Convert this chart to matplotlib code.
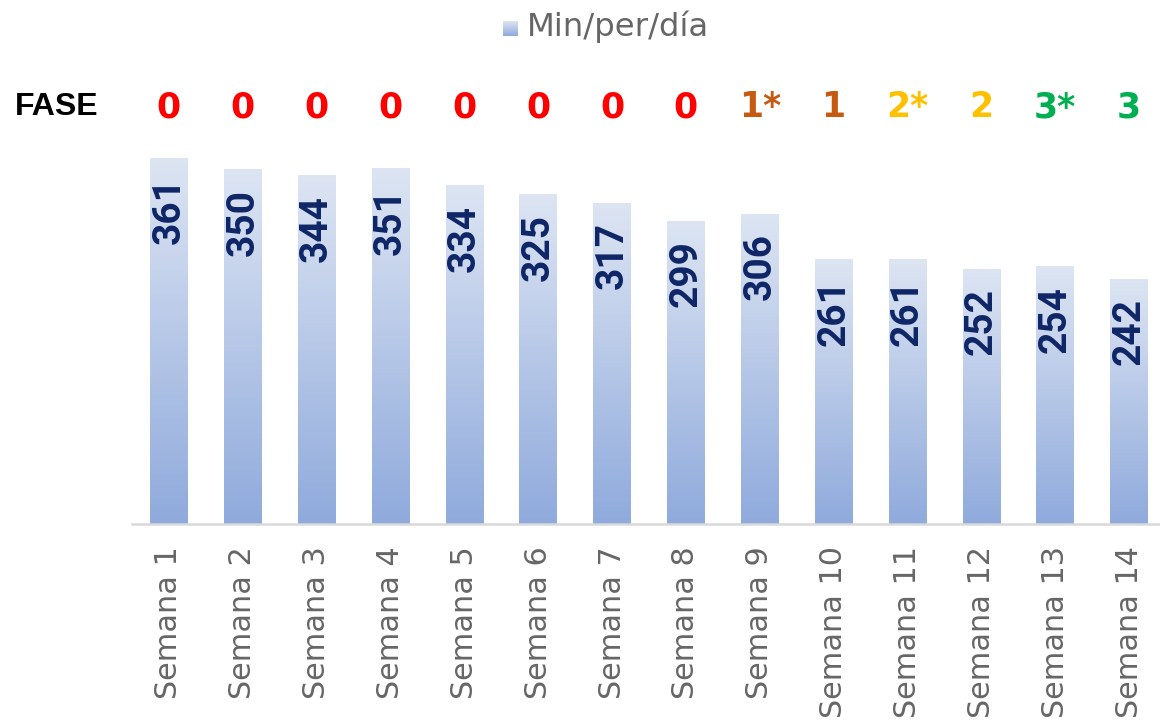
import numpy as np
import matplotlib
matplotlib.use("Agg")
import matplotlib.pyplot as plt
from matplotlib.colors import LinearSegmentedColormap
from matplotlib import font_manager as fm

categories = ["Semana 1", "Semana 2", "Semana 3", "Semana 4", "Semana 5", "Semana 6", "Semana 7",
              "Semana 8", "Semana 9", "Semana 10", "Semana 11", "Semana 12", "Semana 13", "Semana 14"]
values = [361, 350, 344, 351, 334, 325, 317, 299, 306, 261, 261, 252, 254, 242]
fases = ["0", "0", "0", "0", "0", "0", "0", "0", "1*", "1", "2*", "2", "3*", "3"]
fase_colors = ["#FF0000"] * 8 + ["#C55A11", "#C55A11", "#FFC000", "#FFC000", "#00B050", "#00B050"]
series_name = "Min/per/día"

# narrow bold font for value labels, if present
narrow = None
for f in fm.findSystemFonts():
    if "LiberationSansNarrow-Bold.ttf" in f:
        narrow = f
        break
if narrow:
    val_fp = fm.FontProperties(fname=narrow, size=31)
else:
    val_fp = fm.FontProperties(family="Roboto", weight="bold", size=28)

cmap = LinearSegmentedColormap.from_list("g", ["#8FAADC", "#DDE5F3"])
grad = np.linspace(0, 1, 256).reshape(-1, 1)

fig = plt.figure(figsize=(11.6, 7.2), dpi=100)
ax = fig.add_axes([132 / 1160, 196 / 720, 1034 / 1160, 366 / 720])
x = np.arange(len(categories))
w = 0.51
bars = ax.bar(x, values, width=w, color="none", edgecolor="none")
for b in bars:
    im = ax.imshow(grad, cmap=cmap, origin="lower", aspect="auto",
                   extent=[b.get_x(), b.get_x() + b.get_width(), 0, b.get_height()], zorder=1)
    im.set_clip_path(b)
    ax.annotate(str(int(b.get_height())), (b.get_x() + b.get_width() / 2, b.get_height()),
                xytext=(0, -14), textcoords="offset points", rotation=90,
                ha="center", va="top", fontproperties=val_fp, color="#0E2566", zorder=3)

ax.set_xlim(-0.5, 13.5)
ax.set_ylim(0, 361)
for s in ["top", "right", "left"]:
    ax.spines[s].set_visible(False)
ax.spines["bottom"].set_color("#D9D9D9")
ax.spines["bottom"].set_linewidth(1.8)
ax.set_yticks([])
ax.set_xticks(x)
ax.set_xticklabels(categories, rotation=90, fontsize=21.8, color="#666666", va="top",
                   family=["DejaVu Sans"], fontweight="normal")
ax.tick_params(axis="x", length=0, pad=16)

# FASE row
fig.text(15 / 1160, 1 - 107 / 720, "FASE", fontsize=23, fontweight="bold", color="black",
         ha="left", va="center", family=["Liberation Sans", "DejaVu Sans"])
for xi, f, c in zip(x, fases, fase_colors):
    fx = ax.transData.transform((xi, 0))[0]
    fig.text(fx / 1160, 1 - 107 / 720, f, fontsize=25, fontweight="bold", color=c,
             ha="center", va="center", family=["DejaVu Sans"])

# Legend
lax = fig.add_axes([503 / 1160, 1 - 36 / 720, 15 / 1160, 15 / 720])
lax.imshow(grad, cmap=cmap, origin="lower", aspect="auto")
lax.axis("off")
fig.text(527 / 1160, 1 - 27 / 720, series_name, fontsize=23.3, color="#666666",
         ha="left", va="center", family=["DejaVu Sans"], fontweight="normal")

fig.savefig("out.png", dpi=100)
